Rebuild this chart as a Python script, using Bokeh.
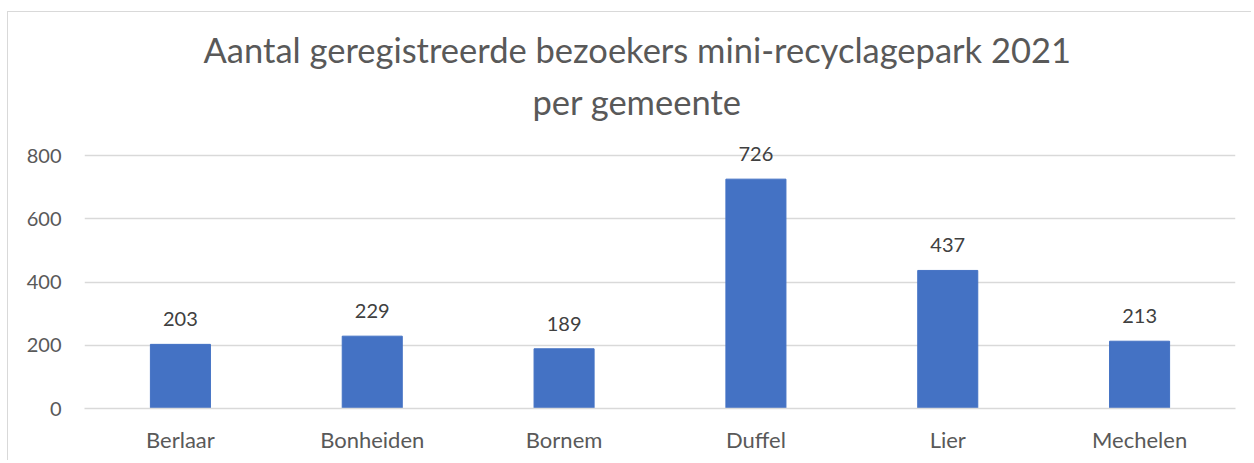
from bokeh.plotting import figure
from bokeh.models import ColumnDataSource, FixedTicker, Title
from bokeh.core.properties import value
from bokeh.embed import file_html
from bokeh.resources import INLINE

gemeenten = ["Berlaar", "Bonheiden", "Bornem", "Duffel", "Lier", "Mechelen"]
bezoekers = [203, 229, 189, 726, 437, 213]
y_ticks = [0, 200, 400, 600, 800]
title_lines = ["Aantal geregistreerde bezoekers mini-recyclagepark 2021", "per gemeente"]

FONT = "Lato"
GRAY = "#595959"

src = ColumnDataSource(dict(g=gemeenten, v=bezoekers, lab=[str(b) for b in bezoekers]))

p = figure(x_range=gemeenten, y_range=(0, 880), width=1244, height=449,
           output_backend="svg", toolbar_location=None,
           min_border_left=76, min_border_right=17, min_border_bottom=53, min_border_top=118)
p.title = None

# (standoff, left offset) for line 2 (nearest the plot) then line 1
title_place = [(18, 448), (0, 119)]
for line, (so, off) in zip(reversed(title_lines), title_place):
    t = Title(text=line, align="left", offset=off, text_font=FONT, text_font_size="34.5px",
              text_font_style="normal", text_color=GRAY, standoff=so)
    p.add_layout(t, "above")

p.vbar(x="g", top="v", width=0.313, source=src, color="#4472C4")
p.text(x="g", y="v", text="lab", source=src, text_align="center", text_baseline="middle",
       y_offset=-25, text_font=value(FONT), text_font_size="20px", text_color="#404040")

p.outline_line_color = None
p.xgrid.grid_line_color = None
p.ygrid.grid_line_color = "#D9D9D9"
p.ygrid.grid_line_width = 1.5
p.yaxis.ticker = FixedTicker(ticks=y_ticks)
p.yaxis.axis_line_color = None
p.yaxis.major_tick_line_color = None
p.yaxis.minor_tick_line_color = None
p.yaxis.major_tick_out = 0
p.yaxis.major_tick_in = 0
p.yaxis.major_label_standoff = 23
p.yaxis.major_label_text_font = FONT
p.yaxis.major_label_text_font_size = "20px"
p.yaxis.major_label_text_color = GRAY

p.xaxis.axis_line_color = "#D9D9D9"
p.xaxis.axis_line_width = 1.5
p.xaxis.major_tick_line_color = None
p.xaxis.minor_tick_line_color = None
p.xaxis.major_tick_out = 0
p.xaxis.major_tick_in = 0
p.xaxis.major_label_standoff = 17
p.xaxis.major_label_text_font = FONT
p.xaxis.major_label_text_font_size = "22px"
p.xaxis.major_label_text_color = GRAY

p.styles = {"margin-left": "7px", "margin-top": "11px",
            "border-left": "1px solid #D9D9D9", "border-top": "1px solid #D9D9D9"}

open("out.html", "w").write(file_html(p, INLINE))
